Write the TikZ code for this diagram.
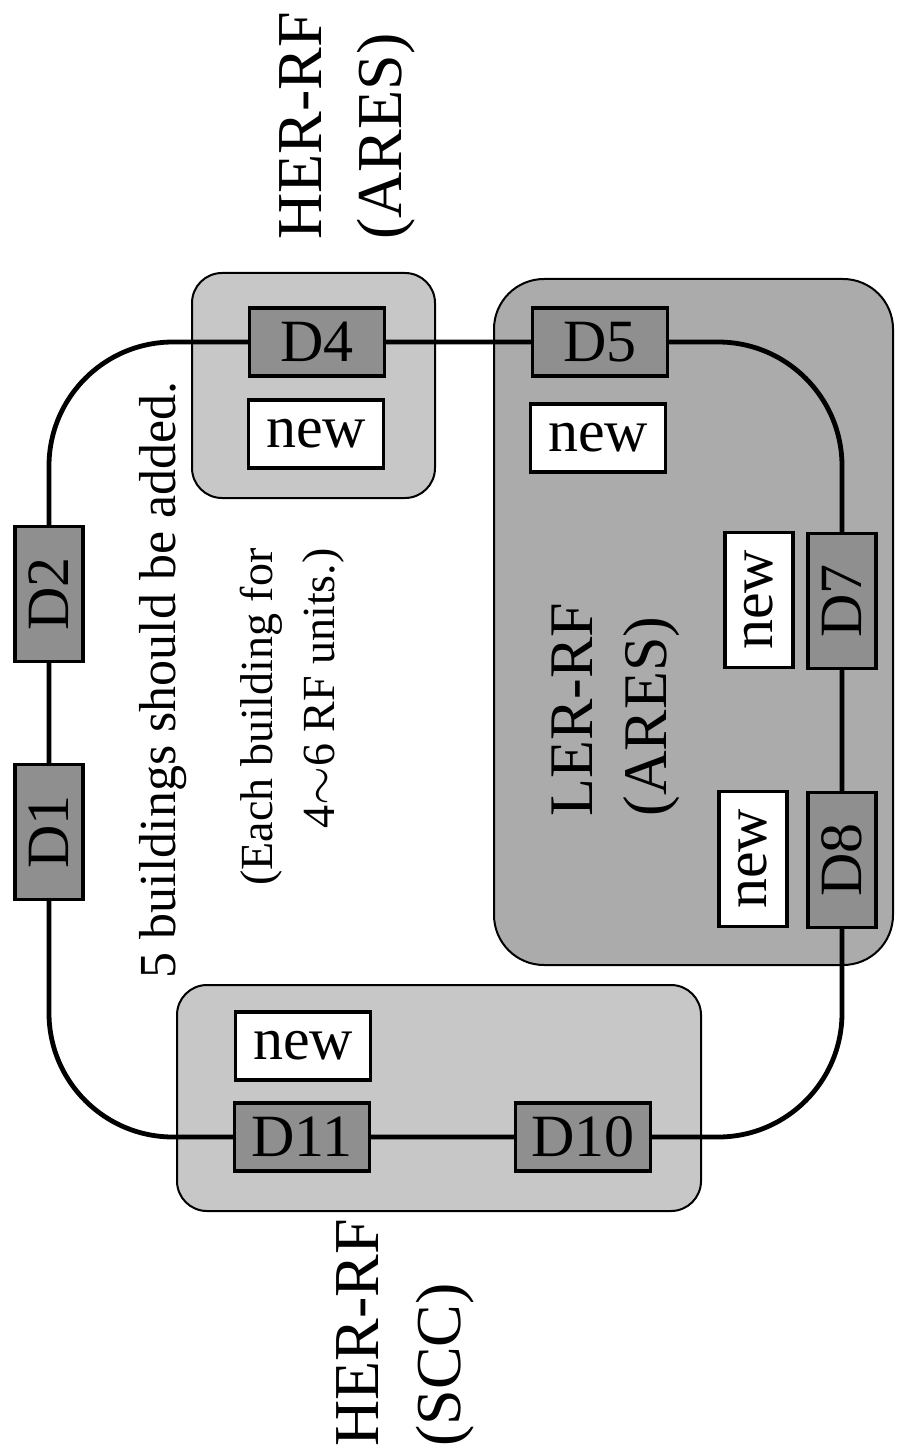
\documentclass[tikz,border=0pt]{standalone}
\usepackage{fontspec}
\setmainfont{Liberation Serif}
\usetikzlibrary{backgrounds}

\definecolor{grplight}{gray}{0.78}
\definecolor{grpdark}{gray}{0.67}
\definecolor{stfill}{gray}{0.56}

\begin{document}
\begin{tikzpicture}[x=0.5pt, y=-0.5pt,
    every node/.style={inner sep=0pt},
    stbox/.style={draw, line width=1.6pt, fill=stfill, minimum width=67.5pt, minimum height=34pt, font=\fontsize{30}{36}\selectfont},
    newbox/.style={stbox, fill=white},
    grp/.style={draw, line width=1pt, rounded corners=15pt, fill=grplight},
    ring/.style={line width=2.4pt, rounded corners=62pt},
    bigtxt/.style={rotate=90, anchor=west, align=left, font=\fontsize{32}{40}\selectfont}]
    \useasboundingbox (0,0) rectangle (896,1449);

    % stations
    \node[stbox, rotate=90] (D1) at (49,832) {D1};
    \node[stbox, rotate=90] (D2) at (49,594) {D2};
    \node[stbox] (D4) at (317,342) {D4};
    \node[stbox] (D5) at (600,342) {D5};
    \node[stbox, rotate=90] (D7) at (842,601) {D7};
    \node[stbox, rotate=90] (D8) at (842,860) {D8};
    \node[stbox] (D10) at (583,1137) {D10};
    \node[stbox] (D11) at (302,1137) {D11};

    % new buildings
    \node[newbox] (new4) at (316,434) {new};
    \node[newbox] (new5) at (598,438) {new};
    \node[newbox, rotate=90] (new7) at (759,600) {new};
    \node[newbox, rotate=90] (new8) at (753,859) {new};
    \node[newbox] (new11) at (303,1046) {new};

    \node[bigtxt] (herares) at (347,240) {HER-RF\\(ARES)};
    \node[bigtxt, font=\fontsize{31}{37}\selectfont] (lerares) at (616,817) {LER-RF\\(ARES)};
    \node[bigtxt, font=\fontsize{32}{41}\selectfont] (herscc) at (405,1447) {HER-RF\\(SCC)};

    \node[rotate=90, anchor=base, font=\fontsize{26}{31}\selectfont] (note) at (175,680) {5 buildings should be added.};
    \node[rotate=90, anchor=east, align=right, font=\fontsize{23}{31}\selectfont] (subnote) at (292,548) {(Each building for\\4$\sim$6 RF units.)};

    \begin{scope}[on background layer]
        \draw[grp] (192,273) rectangle (435,498);
        \draw[grp, fill=grpdark, rounded corners=25pt] (494,279) rectangle (893,965);
        \draw[grp] (177,985) rectangle (701,1211);
        \draw[ring] (D4.center) -- (D5.center) -| (D7.center) -- (D8.center) |- (D10.center)
            -- (D11.center) -| (D1.center) -- (D2.center) |- (D4.center);
    \end{scope}
\end{tikzpicture}
\end{document}
